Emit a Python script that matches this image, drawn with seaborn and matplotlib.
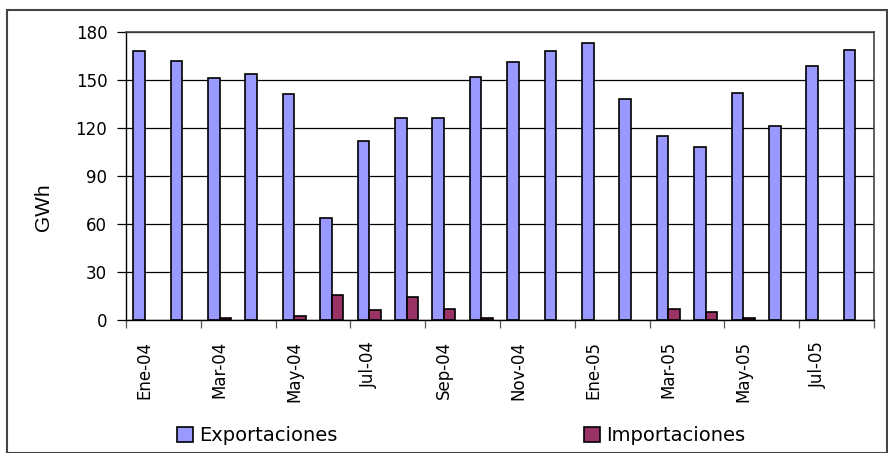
import pandas as pd
import numpy as np
import matplotlib.pyplot as plt
import seaborn as sns
from matplotlib.patches import Patch, Rectangle

meses = ['Ene-04', 'Feb-04', 'Mar-04', 'Abr-04', 'May-04', 'Jun-04', 'Jul-04', 'Ago-04',
         'Sep-04', 'Oct-04', 'Nov-04', 'Dic-04', 'Ene-05', 'Feb-05', 'Mar-05', 'Abr-05',
         'May-05', 'Jun-05', 'Jul-05', 'Ago-05']
exportaciones = [168, 162, 151, 154, 141, 63.5, 112, 126, 126, 152, 161, 168, 173, 138,
                 115, 108, 142, 121, 159, 169]
importaciones = [0, 0, 1.2, 0, 2.5, 15.4, 6, 14.4, 7.1, 1, 0, 0, 0, 0, 7.1, 4.8, 1, 0, 0, 0]
series = ['Exportaciones', 'Importaciones']
colores = ['#9999FF', '#993366']

df = pd.DataFrame({'mes': meses * 2,
                   'GWh': exportaciones + importaciones,
                   'serie': [series[0]] * len(meses) + [series[1]] * len(meses)})

sns.set_style('white')
plt.rcParams['font.family'] = ['DejaVu Sans']
plt.rcParams['text.color'] = 'black'
plt.rcParams['xtick.color'] = 'black'
plt.rcParams['ytick.color'] = 'black'
plt.rcParams['axes.labelcolor'] = 'black'

fig = plt.figure(figsize=(8.88, 4.53), dpi=100)
ax = fig.add_axes([126/888, 1-320/453, (874-126)/888, (320-32)/453])

sns.barplot(data=df, x='mes', y='GWh', hue='serie', order=meses, hue_order=series,
            palette=colores, saturation=1, width=0.62, gap=0, edgecolor='black',
            linewidth=1.2, legend=False, ax=ax)
# sin borde para barras de valor cero
for p in ax.patches:
    if p.get_height() == 0:
        p.set_linewidth(0)

ax.set_ylim(0, 180)
ax.set_xlim(-0.5, len(meses) - 0.5)
ax.set_yticks(range(0, 181, 30))
ax.yaxis.grid(True, color='black', linewidth=0.9)
ax.set_axisbelow(True)
ax.tick_params(axis='y', labelsize=12, length=6.5, width=0.9, colors='black', direction='out', left=True, pad=7)

ax.set_xticks(range(0, len(meses), 2))
ax.set_xticklabels(meses[::2], rotation=90, fontsize=12)
ax.set_xticks(np.arange(-0.5, len(meses), 2), minor=True)
ax.tick_params(axis='x', which='major', length=0, pad=15, labelcolor='black')
ax.tick_params(axis='x', which='minor', length=6, width=0.9, color='#555555', direction='out', bottom=True)

ax.set_xlabel('')
ax.set_ylabel('')
fig.text(43.5/888, 1-207/453, 'GWh', rotation=90, ha='center', va='center',
         family='Liberation Sans', fontsize=15, color='black')
for s in ['left', 'bottom']:
    ax.spines[s].set_color('black')
    ax.spines[s].set_linewidth(1)
for s in ['top', 'right']:
    ax.spines[s].set_color('#444444')
    ax.spines[s].set_linewidth(1.2)

# leyenda: un elemento por serie, cada uno en su posicion
for color, nombre, x0 in zip(colores, series, [177, 584]):
    fig.legend([Patch(facecolor=color, edgecolor='black', linewidth=1.2)], [nombre],
               loc='center left', bbox_to_anchor=(x0/888, 1-435.5/453), frameon=False,
               borderpad=0, borderaxespad=0, handlelength=0.82, handleheight=0.78,
               handletextpad=0.3, labelcolor='black', prop={'family': 'DejaVu Sans', 'size': 14})

fig.patches.append(Rectangle((7/888, 0), 880/888, 1-10/453, transform=fig.transFigure,
                             fill=False, edgecolor='#444444', linewidth=1.5))

fig.savefig('out.png', dpi=100)
